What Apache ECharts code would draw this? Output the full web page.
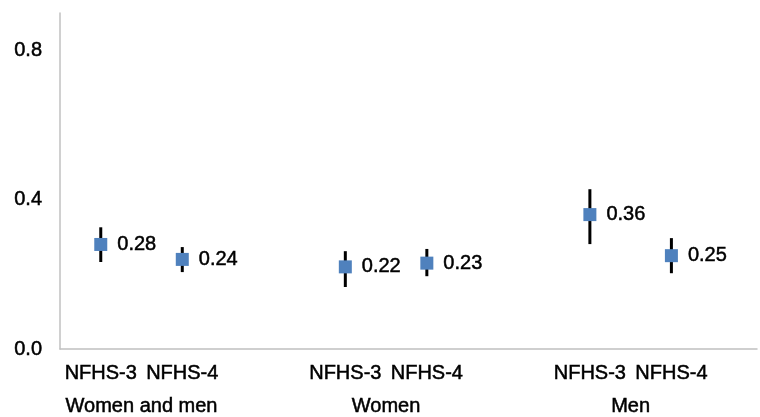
<!DOCTYPE html>
<html>
<head>
<meta charset="utf-8">
<script src="https://cdn.jsdelivr.net/npm/echarts@6/dist/echarts.min.js"></script>
<style>
html,body{margin:0;padding:0;background:#fff;}
#chart{width:760px;height:417px;}
</style>
</head>
<body>
<div id="chart"></div>
<script>
// ---- data ----
const surveyLabels = ['NFHS-3', 'NFHS-4', 'NFHS-3', 'NFHS-4', 'NFHS-3', 'NFHS-4'];
const xValues = [0.5, 1.5, 3.5, 4.5, 6.5, 7.5];
const groupLabels = ['Women and men', 'Women', 'Men'];
const groupX = [1, 4, 7];
const estimates = [0.28, 0.24, 0.22, 0.23, 0.36, 0.25];
const lowerCI = [0.233, 0.206, 0.166, 0.195, 0.281, 0.203];
const upperCI = [0.326, 0.273, 0.262, 0.268, 0.428, 0.297];
const yTicks = [0.0, 0.4, 0.8];

const FONT = '"Liberation Sans", Arial, sans-serif';
const TXT = { color: '#000', fontFamily: FONT, fontSize: 20, textBorderColor: '#000', textBorderWidth: 0.5 };

const pointData = xValues.map((x, i) => [x, estimates[i]]);
const errData = xValues.map((x, i) => [x, lowerCI[i], upperCI[i]]);

function lookup(positions, labels) {
  return function (v) {
    for (let i = 0; i < positions.length; i++) {
      if (Math.abs(positions[i] - v) < 1e-6) return labels[i];
    }
    return '';
  };
}

const chart = echarts.init(document.getElementById('chart'), null, { renderer: 'canvas' });
chart.setOption({
  animation: false,
  backgroundColor: '#ffffff',
  grid: { left: 60, right: 0, top: 13, bottom: 68, containLabel: false },
  xAxis: [
    {
      type: 'value', min: 0, max: 8.55, interval: 0.5,
      axisLine: { show: true, lineStyle: { color: '#c0c0c0', width: 1.5 } },
      axisTick: { show: false },
      splitLine: { show: false },
      axisLabel: Object.assign({ show: true, margin: 14, formatter: lookup(xValues, surveyLabels) }, TXT)
    },
    {
      type: 'value', min: 0, max: 8.55, interval: 0.5, position: 'bottom', offset: 33,
      axisLine: { show: false }, axisTick: { show: false }, splitLine: { show: false },
      axisLabel: Object.assign({ show: true, margin: 14, formatter: lookup(groupX, groupLabels) }, TXT)
    }
  ],
  yAxis: {
    type: 'value', min: 0, max: 0.9, interval: 0.4,
    axisLine: { show: true, lineStyle: { color: '#c0c0c0', width: 1.5 } },
    axisTick: { show: false },
    splitLine: { show: false },
    axisLabel: Object.assign({
      margin: 18, showMaxLabel: false,
      formatter: function (v) {
        for (const t of yTicks) { if (Math.abs(t - v) < 1e-6) return t.toFixed(1); }
        return '';
      }
    }, TXT)
  },
  series: [
    {
      type: 'custom',
      z: 2,
      data: errData,
      renderItem: function (params, api) {
        const p1 = api.coord([api.value(0), api.value(1)]);
        const p2 = api.coord([api.value(0), api.value(2)]);
        return {
          type: 'line',
          shape: { x1: p1[0], y1: p1[1], x2: p2[0], y2: p2[1] },
          style: { stroke: '#000', lineWidth: 3 }
        };
      }
    },
    {
      type: 'scatter',
      z: 3,
      symbol: 'rect',
      symbolSize: [13, 13],
      itemStyle: { color: '#4f81bd', opacity: 1 },
      emphasis: { disabled: true },
      data: pointData,
      label: Object.assign({
        show: true, position: 'right', distance: 10,
        formatter: function (p) { return p.value[1].toFixed(2); }
      }, TXT)
    }
  ]
});
</script>
</body>
</html>
